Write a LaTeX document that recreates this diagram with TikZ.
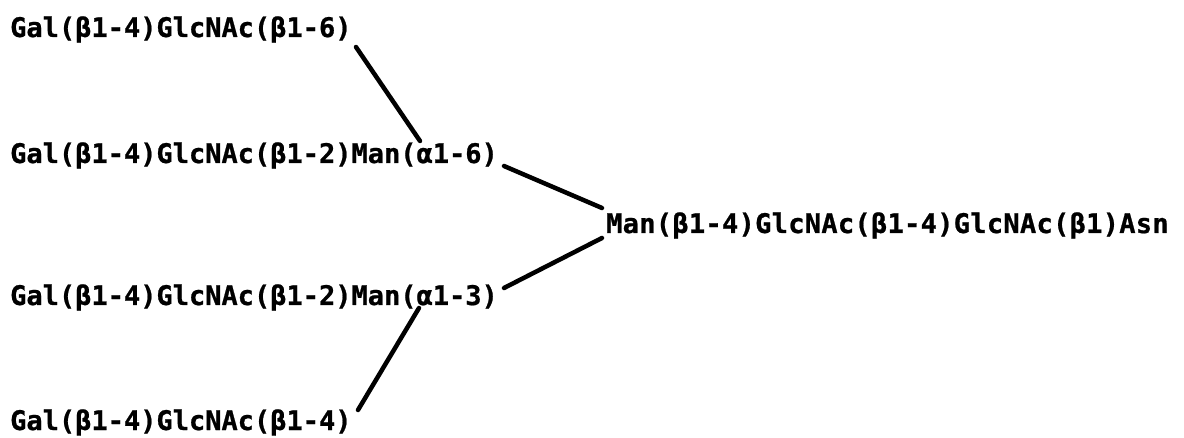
\documentclass[tikz,border=0pt]{standalone}
\usepackage{fontspec}
\setmonofont[BoldFeatures={FakeBold=0.8}]{DejaVu Sans Mono}
\usetikzlibrary{calc}
\begin{document}
\begin{tikzpicture}[x=1pt,y=-1pt,
  lbl/.style={anchor=base west,inner sep=0pt,
    font=\ttfamily\bfseries\fontsize{27}{30}\selectfont},
  bond/.style={line width=4.5pt,line cap=round}]
\path[use as bounding box,fill=white] (0,0) rectangle (1184,438);

% antenna branches
\node[lbl] (g1) at (10,37)  {Gal(β1-4)GlcNAc(β1-6)};
\node[lbl] (g2) at (10,163) {Gal(β1-4)GlcNAc(β1-2)Man(α1-6)};
\node[lbl] (g3) at (10,305) {Gal(β1-4)GlcNAc(β1-2)Man(α1-3)};
\node[lbl] (g4) at (10,430) {Gal(β1-4)GlcNAc(β1-4)};
% core, set a little wider
\node[lbl] (core) at (606,233) {\addfontfeature{LetterSpace=1.1}Man(β1-4)GlcNAc(β1-4)GlcNAc(β1)Asn};

% bond end points
\coordinate (a1) at (356,47);
\coordinate (a2) at (420,141);
\coordinate (b1) at (504,166);
\coordinate (b2) at (602,208);
\coordinate (c1) at (504,288);
\coordinate (c2) at (602,238);
\coordinate (d1) at (358,410);
\coordinate (d2) at (419,308);

\draw[bond] (a1) -- (a2);
\draw[bond] (b1) -- (b2);
\draw[bond] (c1) -- (c2);
\draw[bond] (d1) -- (d2);
\end{tikzpicture}
\end{document}
